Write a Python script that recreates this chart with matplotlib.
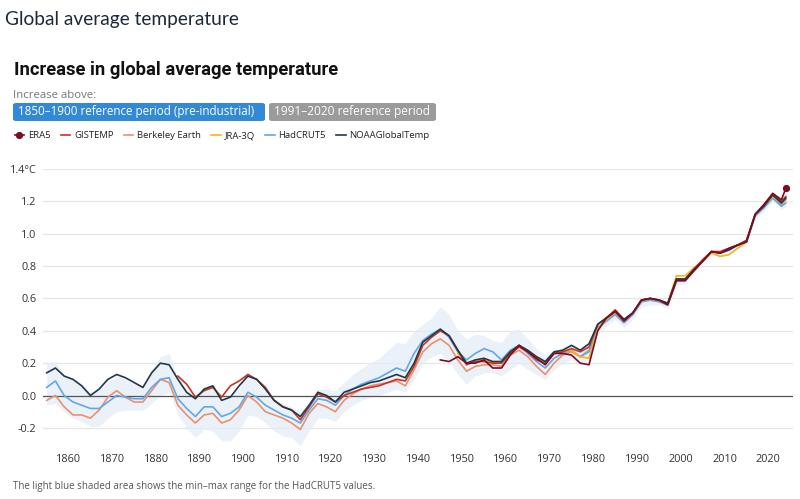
import matplotlib.pyplot as plt
from matplotlib.patches import FancyBboxPatch

# years of the (smoothed) series, every other year + last point
years = list(range(1855, 2024, 2)) + [2024]

noaa = [0.14, 0.17, 0.12, 0.10, 0.06, 0.00, 0.04, 0.10, 0.13, 0.11,
        0.08, 0.05, 0.14, 0.20, 0.19, 0.10, 0.02, -0.02, 0.04, 0.06,
        -0.03, -0.01, 0.06, 0.12, 0.10, 0.04, -0.03, -0.07, -0.09, -0.13,
        -0.06, 0.02, 0.00, -0.04, 0.02, 0.04, 0.06, 0.08, 0.09, 0.11,
        0.13, 0.11, 0.20, 0.33, 0.37, 0.41, 0.37, 0.28, 0.20, 0.22,
        0.23, 0.21, 0.21, 0.27, 0.31, 0.28, 0.24, 0.21, 0.27, 0.28,
        0.31, 0.28, 0.32, 0.44, 0.48, 0.52, 0.47, 0.51, 0.59, 0.60,
        0.59, 0.57, 0.72, 0.72, 0.78, 0.83, 0.89, 0.88, 0.90, 0.93,
        0.95, 1.12, 1.17, 1.24, 1.19, 1.22]

hadcrut = [0.05, 0.09, 0.00, -0.04, -0.06, -0.08, -0.08, -0.04, 0.00, -0.01,
           -0.02, -0.02, 0.05, 0.10, 0.11, -0.02, -0.08, -0.13, -0.07, -0.07,
           -0.13, -0.11, -0.07, 0.02, -0.01, -0.06, -0.09, -0.12, -0.14, -0.17,
           -0.09, -0.02, -0.03, -0.06, 0.00, 0.04, 0.07, 0.09, 0.11, 0.14,
           0.17, 0.15, 0.26, 0.34, 0.38, 0.41, 0.36, 0.27, 0.22, 0.26,
           0.29, 0.27, 0.22, 0.28, 0.31, 0.26, 0.21, 0.17, 0.23, 0.26,
           0.28, 0.24, 0.27, 0.42, 0.46, 0.50, 0.45, 0.50, 0.58, 0.59,
           0.58, 0.56, 0.71, 0.71, 0.78, 0.83, 0.89, 0.88, 0.90, 0.93,
           0.95, 1.11, 1.16, 1.22, 1.17, 1.19]

had_min = [-0.06, -0.05, -0.10, -0.14, -0.16, -0.19, -0.19, -0.14, -0.10, -0.09,
           -0.09, -0.09, -0.05, 0.00, 0.02, -0.12, -0.20, -0.26, -0.21, -0.22,
           -0.28, -0.28, -0.22, -0.12, -0.13, -0.17, -0.22, -0.25, -0.26, -0.31,
           -0.22, -0.14, -0.14, -0.16, -0.10, -0.06, -0.03, -0.01, 0.00, 0.02,
           0.04, 0.02, 0.10, 0.20, 0.24, 0.26, 0.21, 0.13, 0.07, 0.12,
           0.14, 0.14, 0.12, 0.16, 0.20, 0.16, 0.13, 0.10, 0.16, 0.20,
           0.22, 0.19, 0.22, 0.38, 0.43, 0.47, 0.42, 0.47, 0.55, 0.56,
           0.56, 0.54, 0.68, 0.69, 0.76, 0.81, 0.87, 0.86, 0.88, 0.91,
           0.93, 1.09, 1.14, 1.20, 1.15, 1.17]

had_max = [0.20, 0.21, 0.13, 0.10, 0.07, 0.02, 0.04, 0.08, 0.12, 0.10,
           0.07, 0.06, 0.16, 0.24, 0.26, 0.10, 0.04, 0.00, 0.04, 0.04,
           -0.02, 0.00, 0.05, 0.15, 0.08, 0.03, -0.02, -0.05, -0.07, -0.10,
           -0.04, 0.04, 0.04, 0.03, 0.08, 0.13, 0.17, 0.20, 0.23, 0.28,
           0.33, 0.32, 0.40, 0.44, 0.48, 0.55, 0.50, 0.40, 0.35, 0.38,
           0.37, 0.34, 0.33, 0.40, 0.41, 0.35, 0.29, 0.25, 0.28, 0.30,
           0.32, 0.29, 0.31, 0.45, 0.49, 0.53, 0.48, 0.52, 0.60, 0.61,
           0.60, 0.58, 0.73, 0.73, 0.80, 0.85, 0.90, 0.89, 0.91, 0.94,
           0.97, 1.13, 1.18, 1.24, 1.19, 1.21]

berkeley = [-0.03, 0.00, -0.07, -0.12, -0.12, -0.14, -0.09, -0.01, 0.03, -0.01,
            -0.04, -0.04, 0.03, 0.10, 0.08, -0.06, -0.12, -0.17, -0.12, -0.11,
            -0.17, -0.15, -0.09, 0.00, -0.04, -0.10, -0.12, -0.14, -0.17, -0.21,
            -0.11, -0.05, -0.07, -0.10, -0.03, 0.01, 0.04, 0.06, 0.07, 0.08,
            0.09, 0.06, 0.16, 0.27, 0.32, 0.35, 0.31, 0.22, 0.15, 0.18,
            0.19, 0.19, 0.18, 0.25, 0.28, 0.24, 0.18, 0.13, 0.20, 0.25,
            0.27, 0.24, 0.28, 0.42, 0.46, 0.51, 0.45, 0.50, 0.58, 0.59,
            0.58, 0.56, 0.71, 0.71, 0.78, 0.83, 0.89, 0.88, 0.90, 0.93,
            0.95, 1.11, 1.17, 1.23, 1.18, 1.21]

# GISTEMP starts in 1885
gistemp = [0.12, 0.07, -0.01, 0.03, 0.05,
           -0.01, 0.06, 0.09, 0.13, 0.10, 0.05, -0.03, -0.07, -0.09, -0.15,
           -0.07, 0.01, -0.01, -0.04, 0.00, 0.02, 0.04, 0.05, 0.06, 0.08,
           0.10, 0.09, 0.18, 0.31, 0.36, 0.40, 0.37, 0.28, 0.19, 0.21,
           0.21, 0.20, 0.20, 0.26, 0.30, 0.27, 0.22, 0.20, 0.26, 0.27,
           0.29, 0.27, 0.30, 0.44, 0.48, 0.53, 0.47, 0.51, 0.59, 0.60,
           0.59, 0.57, 0.72, 0.72, 0.78, 0.84, 0.89, 0.89, 0.91, 0.93,
           0.96, 1.12, 1.18, 1.24, 1.20, 1.23]

# JRA-3Q starts in 1949
jra3q = [0.26, 0.20, 0.21,
         0.22, 0.20, 0.20, 0.27, 0.31, 0.27, 0.23, 0.20, 0.26, 0.27,
         0.28, 0.24, 0.23, 0.41, 0.47, 0.52, 0.46, 0.51, 0.59, 0.60,
         0.59, 0.57, 0.74, 0.74, 0.79, 0.83, 0.88, 0.86, 0.87, 0.91,
         0.95, 1.12, 1.17, 1.23, 1.19, 1.22]

# ERA5 starts in 1945
era5 = [0.22, 0.21, 0.24, 0.20, 0.20,
        0.22, 0.17, 0.17, 0.25, 0.31, 0.27, 0.23, 0.19, 0.26, 0.26,
        0.25, 0.20, 0.19, 0.40, 0.48, 0.52, 0.46, 0.51, 0.59, 0.60,
        0.59, 0.56, 0.71, 0.71, 0.77, 0.83, 0.89, 0.88, 0.91, 0.93,
        0.95, 1.12, 1.18, 1.25, 1.21, 1.28]

yticks = [-0.2, 0.0, 0.2, 0.4, 0.6, 0.8, 1.0, 1.2, 1.4]
ytick_labels = ['-0.2', '0.0', '0.2', '0.4', '0.6', '0.8', '1.0', '1.2', '1.4°C']
xticks = list(range(1860, 2021, 10))

fig = plt.figure(figsize=(8, 4.99), dpi=100)
ax = fig.add_axes([0.054, 0.1004, 0.937, 0.5609])

ax.fill_between(years, had_min, had_max, color='#e3edf7', alpha=0.75, lw=0, zorder=1)
ax.axhline(0, color='#555555', lw=0.9, zorder=2)

lw = 1.2
l_berk, = ax.plot(years, berkeley, color='#ee8f6c', lw=lw, zorder=3, label='Berkeley Earth')
l_had, = ax.plot(years, hadcrut, color='#62a8e5', lw=lw, zorder=4, label='HadCRUT5')
l_jra, = ax.plot(years[-len(jra3q):], jra3q, color='#f2b51a', lw=lw, zorder=5, label='JRA-3Q')
l_gis, = ax.plot(years[-len(gistemp):], gistemp, color='#c93421', lw=lw, zorder=6, label='GISTEMP')
l_noaa, = ax.plot(years, noaa, color='#22384a', lw=lw, zorder=7, label='NOAAGlobalTemp')
l_era, = ax.plot(years[-len(era5):], era5, color='#7d0b22', lw=lw, zorder=8, label='ERA5',
                 marker='o', markevery=[len(era5) - 1], markersize=4.2)

ax.set_xlim(1854.2, 2025.6)
ax.set_ylim(-0.33, 1.4)
ax.set_yticks(yticks)
ax.set_yticklabels(ytick_labels)
ax.set_xticks(xticks)
ax.grid(axis='y', color='#e6e6e6', lw=0.9)
ax.set_axisbelow(True)
for s in ax.spines.values():
    s.set_visible(False)
ax.tick_params(length=0, labelsize=7.8, labelcolor='#333333', pad=4)
ax.tick_params(axis='y', pad=5)
for t in ax.get_xticklabels() + ax.get_yticklabels():
    t.set_family('Open Sans')

# header texts
fig.text(5 / 800, 1 - 20 / 499, 'Global average temperature', fontsize=13.8,
         color='#1b2a3a', va='center', family='Lato')
fig.text(14 / 800, 1 - 70 / 499, 'Increase in global average temperature', fontsize=13.2,
         weight='bold', color='#111111', va='center', family='Roboto')
fig.text(13 / 800, 1 - 96 / 499, 'Increase above:', fontsize=8.2, color='#777777',
         va='center', family='Open Sans')

# reference period buttons
fig.patches.append(FancyBboxPatch((13 / 800, 1 - 121 / 499), 252 / 800, 18 / 499,
                                  boxstyle='round,pad=0,rounding_size=0.004',
                                  transform=fig.transFigure, fc='#3289d6', ec='none'))
fig.text(18 / 800, 1 - 112 / 499, '1850–1900 reference period (pre-industrial)',
         fontsize=8.4, color='white', va='center', family='Open Sans')
fig.patches.append(FancyBboxPatch((269 / 800, 1 - 121 / 499), 167 / 800, 18 / 499,
                                  boxstyle='round,pad=0,rounding_size=0.004',
                                  transform=fig.transFigure, fc='#9b9b9b', ec='none'))
fig.text(274 / 800, 1 - 112 / 499, '1991–2020 reference period',
         fontsize=8.6, color='white', va='center', family='Open Sans')

# legend
handles = [l_era, l_gis, l_berk, l_jra, l_had, l_noaa]
leg = fig.legend(handles=handles, loc='center left', bbox_to_anchor=(6 / 800, 1 - 136 / 499),
                 ncol=6, frameon=False, handlelength=1.0, handletextpad=0.4,
                 columnspacing=1.1, prop={'family': 'Open Sans', 'size': 6.8})
for t in leg.get_texts():
    t.set_color('#222222')

fig.text(13 / 800, 1 - 487 / 499,
         'The light blue shaded area shows the min–max range for the HadCRUT5 values.',
         fontsize=7, color='#555555', va='center', family='Open Sans')

fig.savefig('out.png', dpi=100, facecolor='white')
